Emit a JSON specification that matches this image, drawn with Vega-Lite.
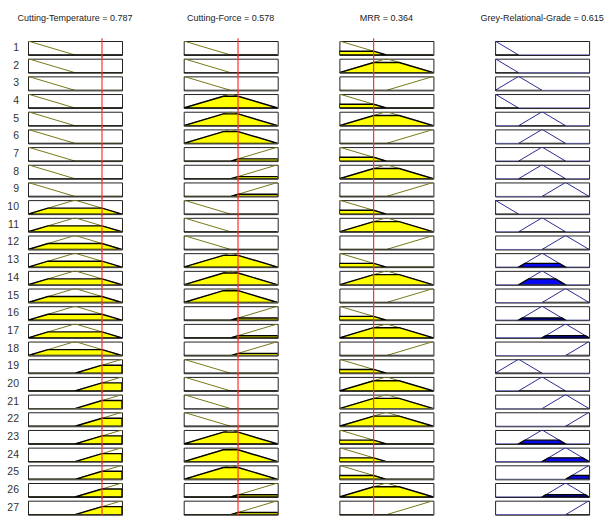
{
"$schema":"https://vega.github.io/schema/vega-lite/v6.json",
"background":"white",
"bounds":"flush",
"padding":{"left":7,"top":14,"right":0,"bottom":0},
"data":{"values":[
{"r":1,"v":"T","s":"o","x":0,"y":1},{"r":1,"v":"T","s":"o","x":0.5,"y":0},{"r":1,"v":"T","s":"o","x":1,"y":0},
{"r":1,"v":"T","s":"f","x":0,"y":0},{"r":1,"v":"T","s":"f","x":1,"y":0},
{"r":1,"v":"F","s":"o","x":0,"y":1},{"r":1,"v":"F","s":"o","x":0.5,"y":0},{"r":1,"v":"F","s":"o","x":1,"y":0},
{"r":1,"v":"F","s":"f","x":0,"y":0},{"r":1,"v":"F","s":"f","x":1,"y":0},
{"r":1,"v":"M","s":"o","x":0,"y":1},{"r":1,"v":"M","s":"o","x":0.5,"y":0},{"r":1,"v":"M","s":"o","x":1,"y":0},
{"r":1,"v":"M","s":"f","x":0,"y":0.272},{"r":1,"v":"M","s":"f","x":0.364,"y":0.272},{"r":1,"v":"M","s":"f","x":0.5,"y":0},{"r":1,"v":"M","s":"f","x":1,"y":0},
{"r":1,"v":"G","s":"o","x":0,"y":1},{"r":1,"v":"G","s":"o","x":0.25,"y":0},{"r":1,"v":"G","s":"o","x":1,"y":0},
{"r":1,"v":"G","s":"f","x":0,"y":0},{"r":1,"v":"G","s":"f","x":0.25,"y":0},
{"r":1,"v":"T","s":"i","x":0.787},{"r":1,"v":"F","s":"i","x":0.578},{"r":1,"v":"M","s":"i","x":0.364},

{"r":2,"v":"T","s":"o","x":0,"y":1},{"r":2,"v":"T","s":"o","x":0.5,"y":0},{"r":2,"v":"T","s":"o","x":1,"y":0},
{"r":2,"v":"T","s":"f","x":0,"y":0},{"r":2,"v":"T","s":"f","x":1,"y":0},
{"r":2,"v":"F","s":"o","x":0,"y":1},{"r":2,"v":"F","s":"o","x":0.5,"y":0},{"r":2,"v":"F","s":"o","x":1,"y":0},
{"r":2,"v":"F","s":"f","x":0,"y":0},{"r":2,"v":"F","s":"f","x":1,"y":0},
{"r":2,"v":"M","s":"o","x":0,"y":0},{"r":2,"v":"M","s":"o","x":0.5,"y":1},{"r":2,"v":"M","s":"o","x":1,"y":0},
{"r":2,"v":"M","s":"f","x":0,"y":0},{"r":2,"v":"M","s":"f","x":0.364,"y":0.728},{"r":2,"v":"M","s":"f","x":0.636,"y":0.728},{"r":2,"v":"M","s":"f","x":1,"y":0},
{"r":2,"v":"G","s":"o","x":0,"y":1},{"r":2,"v":"G","s":"o","x":0.25,"y":0},{"r":2,"v":"G","s":"o","x":1,"y":0},
{"r":2,"v":"G","s":"f","x":0,"y":0},{"r":2,"v":"G","s":"f","x":0.25,"y":0},
{"r":2,"v":"T","s":"i","x":0.787},{"r":2,"v":"F","s":"i","x":0.578},{"r":2,"v":"M","s":"i","x":0.364},

{"r":3,"v":"T","s":"o","x":0,"y":1},{"r":3,"v":"T","s":"o","x":0.5,"y":0},{"r":3,"v":"T","s":"o","x":1,"y":0},
{"r":3,"v":"T","s":"f","x":0,"y":0},{"r":3,"v":"T","s":"f","x":1,"y":0},
{"r":3,"v":"F","s":"o","x":0,"y":1},{"r":3,"v":"F","s":"o","x":0.5,"y":0},{"r":3,"v":"F","s":"o","x":1,"y":0},
{"r":3,"v":"F","s":"f","x":0,"y":0},{"r":3,"v":"F","s":"f","x":1,"y":0},
{"r":3,"v":"M","s":"o","x":0,"y":0},{"r":3,"v":"M","s":"o","x":0.5,"y":0},{"r":3,"v":"M","s":"o","x":1,"y":1},
{"r":3,"v":"M","s":"f","x":0,"y":0},{"r":3,"v":"M","s":"f","x":1,"y":0},
{"r":3,"v":"G","s":"o","x":0,"y":0},{"r":3,"v":"G","s":"o","x":0.25,"y":1},{"r":3,"v":"G","s":"o","x":0.5,"y":0},{"r":3,"v":"G","s":"o","x":1,"y":0},
{"r":3,"v":"G","s":"f","x":0,"y":0},{"r":3,"v":"G","s":"f","x":0.5,"y":0},
{"r":3,"v":"T","s":"i","x":0.787},{"r":3,"v":"F","s":"i","x":0.578},{"r":3,"v":"M","s":"i","x":0.364},

{"r":4,"v":"T","s":"o","x":0,"y":1},{"r":4,"v":"T","s":"o","x":0.5,"y":0},{"r":4,"v":"T","s":"o","x":1,"y":0},
{"r":4,"v":"T","s":"f","x":0,"y":0},{"r":4,"v":"T","s":"f","x":1,"y":0},
{"r":4,"v":"F","s":"o","x":0,"y":0},{"r":4,"v":"F","s":"o","x":0.5,"y":1},{"r":4,"v":"F","s":"o","x":1,"y":0},
{"r":4,"v":"F","s":"f","x":0,"y":0},{"r":4,"v":"F","s":"f","x":0.422,"y":0.844},{"r":4,"v":"F","s":"f","x":0.578,"y":0.844},{"r":4,"v":"F","s":"f","x":1,"y":0},
{"r":4,"v":"M","s":"o","x":0,"y":1},{"r":4,"v":"M","s":"o","x":0.5,"y":0},{"r":4,"v":"M","s":"o","x":1,"y":0},
{"r":4,"v":"M","s":"f","x":0,"y":0.272},{"r":4,"v":"M","s":"f","x":0.364,"y":0.272},{"r":4,"v":"M","s":"f","x":0.5,"y":0},{"r":4,"v":"M","s":"f","x":1,"y":0},
{"r":4,"v":"G","s":"o","x":0,"y":1},{"r":4,"v":"G","s":"o","x":0.25,"y":0},{"r":4,"v":"G","s":"o","x":1,"y":0},
{"r":4,"v":"G","s":"f","x":0,"y":0},{"r":4,"v":"G","s":"f","x":0.25,"y":0},
{"r":4,"v":"T","s":"i","x":0.787},{"r":4,"v":"F","s":"i","x":0.578},{"r":4,"v":"M","s":"i","x":0.364},

{"r":5,"v":"T","s":"o","x":0,"y":1},{"r":5,"v":"T","s":"o","x":0.5,"y":0},{"r":5,"v":"T","s":"o","x":1,"y":0},
{"r":5,"v":"T","s":"f","x":0,"y":0},{"r":5,"v":"T","s":"f","x":1,"y":0},
{"r":5,"v":"F","s":"o","x":0,"y":0},{"r":5,"v":"F","s":"o","x":0.5,"y":1},{"r":5,"v":"F","s":"o","x":1,"y":0},
{"r":5,"v":"F","s":"f","x":0,"y":0},{"r":5,"v":"F","s":"f","x":0.422,"y":0.844},{"r":5,"v":"F","s":"f","x":0.578,"y":0.844},{"r":5,"v":"F","s":"f","x":1,"y":0},
{"r":5,"v":"M","s":"o","x":0,"y":0},{"r":5,"v":"M","s":"o","x":0.5,"y":1},{"r":5,"v":"M","s":"o","x":1,"y":0},
{"r":5,"v":"M","s":"f","x":0,"y":0},{"r":5,"v":"M","s":"f","x":0.364,"y":0.728},{"r":5,"v":"M","s":"f","x":0.636,"y":0.728},{"r":5,"v":"M","s":"f","x":1,"y":0},
{"r":5,"v":"G","s":"o","x":0,"y":0},{"r":5,"v":"G","s":"o","x":0.25,"y":0},{"r":5,"v":"G","s":"o","x":0.5,"y":1},{"r":5,"v":"G","s":"o","x":0.75,"y":0},{"r":5,"v":"G","s":"o","x":1,"y":0},
{"r":5,"v":"G","s":"f","x":0.25,"y":0},{"r":5,"v":"G","s":"f","x":0.75,"y":0},
{"r":5,"v":"T","s":"i","x":0.787},{"r":5,"v":"F","s":"i","x":0.578},{"r":5,"v":"M","s":"i","x":0.364},

{"r":6,"v":"T","s":"o","x":0,"y":1},{"r":6,"v":"T","s":"o","x":0.5,"y":0},{"r":6,"v":"T","s":"o","x":1,"y":0},
{"r":6,"v":"T","s":"f","x":0,"y":0},{"r":6,"v":"T","s":"f","x":1,"y":0},
{"r":6,"v":"F","s":"o","x":0,"y":0},{"r":6,"v":"F","s":"o","x":0.5,"y":1},{"r":6,"v":"F","s":"o","x":1,"y":0},
{"r":6,"v":"F","s":"f","x":0,"y":0},{"r":6,"v":"F","s":"f","x":0.422,"y":0.844},{"r":6,"v":"F","s":"f","x":0.578,"y":0.844},{"r":6,"v":"F","s":"f","x":1,"y":0},
{"r":6,"v":"M","s":"o","x":0,"y":0},{"r":6,"v":"M","s":"o","x":0.5,"y":0},{"r":6,"v":"M","s":"o","x":1,"y":1},
{"r":6,"v":"M","s":"f","x":0,"y":0},{"r":6,"v":"M","s":"f","x":1,"y":0},
{"r":6,"v":"G","s":"o","x":0,"y":0},{"r":6,"v":"G","s":"o","x":0.25,"y":0},{"r":6,"v":"G","s":"o","x":0.5,"y":1},{"r":6,"v":"G","s":"o","x":0.75,"y":0},{"r":6,"v":"G","s":"o","x":1,"y":0},
{"r":6,"v":"G","s":"f","x":0.25,"y":0},{"r":6,"v":"G","s":"f","x":0.75,"y":0},
{"r":6,"v":"T","s":"i","x":0.787},{"r":6,"v":"F","s":"i","x":0.578},{"r":6,"v":"M","s":"i","x":0.364},

{"r":7,"v":"T","s":"o","x":0,"y":1},{"r":7,"v":"T","s":"o","x":0.5,"y":0},{"r":7,"v":"T","s":"o","x":1,"y":0},
{"r":7,"v":"T","s":"f","x":0,"y":0},{"r":7,"v":"T","s":"f","x":1,"y":0},
{"r":7,"v":"F","s":"o","x":0,"y":0},{"r":7,"v":"F","s":"o","x":0.5,"y":0},{"r":7,"v":"F","s":"o","x":1,"y":1},
{"r":7,"v":"F","s":"f","x":0,"y":0},{"r":7,"v":"F","s":"f","x":0.5,"y":0},{"r":7,"v":"F","s":"f","x":0.578,"y":0.156},{"r":7,"v":"F","s":"f","x":1,"y":0.156},
{"r":7,"v":"M","s":"o","x":0,"y":1},{"r":7,"v":"M","s":"o","x":0.5,"y":0},{"r":7,"v":"M","s":"o","x":1,"y":0},
{"r":7,"v":"M","s":"f","x":0,"y":0.272},{"r":7,"v":"M","s":"f","x":0.364,"y":0.272},{"r":7,"v":"M","s":"f","x":0.5,"y":0},{"r":7,"v":"M","s":"f","x":1,"y":0},
{"r":7,"v":"G","s":"o","x":0,"y":0},{"r":7,"v":"G","s":"o","x":0.25,"y":0},{"r":7,"v":"G","s":"o","x":0.5,"y":1},{"r":7,"v":"G","s":"o","x":0.75,"y":0},{"r":7,"v":"G","s":"o","x":1,"y":0},
{"r":7,"v":"G","s":"f","x":0.25,"y":0},{"r":7,"v":"G","s":"f","x":0.75,"y":0},
{"r":7,"v":"T","s":"i","x":0.787},{"r":7,"v":"F","s":"i","x":0.578},{"r":7,"v":"M","s":"i","x":0.364},

{"r":8,"v":"T","s":"o","x":0,"y":1},{"r":8,"v":"T","s":"o","x":0.5,"y":0},{"r":8,"v":"T","s":"o","x":1,"y":0},
{"r":8,"v":"T","s":"f","x":0,"y":0},{"r":8,"v":"T","s":"f","x":1,"y":0},
{"r":8,"v":"F","s":"o","x":0,"y":0},{"r":8,"v":"F","s":"o","x":0.5,"y":0},{"r":8,"v":"F","s":"o","x":1,"y":1},
{"r":8,"v":"F","s":"f","x":0,"y":0},{"r":8,"v":"F","s":"f","x":0.5,"y":0},{"r":8,"v":"F","s":"f","x":0.578,"y":0.156},{"r":8,"v":"F","s":"f","x":1,"y":0.156},
{"r":8,"v":"M","s":"o","x":0,"y":0},{"r":8,"v":"M","s":"o","x":0.5,"y":1},{"r":8,"v":"M","s":"o","x":1,"y":0},
{"r":8,"v":"M","s":"f","x":0,"y":0},{"r":8,"v":"M","s":"f","x":0.364,"y":0.728},{"r":8,"v":"M","s":"f","x":0.636,"y":0.728},{"r":8,"v":"M","s":"f","x":1,"y":0},
{"r":8,"v":"G","s":"o","x":0,"y":0},{"r":8,"v":"G","s":"o","x":0.25,"y":0},{"r":8,"v":"G","s":"o","x":0.5,"y":1},{"r":8,"v":"G","s":"o","x":0.75,"y":0},{"r":8,"v":"G","s":"o","x":1,"y":0},
{"r":8,"v":"G","s":"f","x":0.25,"y":0},{"r":8,"v":"G","s":"f","x":0.75,"y":0},
{"r":8,"v":"T","s":"i","x":0.787},{"r":8,"v":"F","s":"i","x":0.578},{"r":8,"v":"M","s":"i","x":0.364},

{"r":9,"v":"T","s":"o","x":0,"y":1},{"r":9,"v":"T","s":"o","x":0.5,"y":0},{"r":9,"v":"T","s":"o","x":1,"y":0},
{"r":9,"v":"T","s":"f","x":0,"y":0},{"r":9,"v":"T","s":"f","x":1,"y":0},
{"r":9,"v":"F","s":"o","x":0,"y":0},{"r":9,"v":"F","s":"o","x":0.5,"y":0},{"r":9,"v":"F","s":"o","x":1,"y":1},
{"r":9,"v":"F","s":"f","x":0,"y":0},{"r":9,"v":"F","s":"f","x":0.5,"y":0},{"r":9,"v":"F","s":"f","x":0.578,"y":0.156},{"r":9,"v":"F","s":"f","x":1,"y":0.156},
{"r":9,"v":"M","s":"o","x":0,"y":0},{"r":9,"v":"M","s":"o","x":0.5,"y":0},{"r":9,"v":"M","s":"o","x":1,"y":1},
{"r":9,"v":"M","s":"f","x":0,"y":0},{"r":9,"v":"M","s":"f","x":1,"y":0},
{"r":9,"v":"G","s":"o","x":0,"y":0},{"r":9,"v":"G","s":"o","x":0.5,"y":0},{"r":9,"v":"G","s":"o","x":0.75,"y":1},{"r":9,"v":"G","s":"o","x":1,"y":0},
{"r":9,"v":"G","s":"f","x":0.5,"y":0},{"r":9,"v":"G","s":"f","x":1,"y":0},
{"r":9,"v":"T","s":"i","x":0.787},{"r":9,"v":"F","s":"i","x":0.578},{"r":9,"v":"M","s":"i","x":0.364},

{"r":10,"v":"T","s":"o","x":0,"y":0},{"r":10,"v":"T","s":"o","x":0.5,"y":1},{"r":10,"v":"T","s":"o","x":1,"y":0},
{"r":10,"v":"T","s":"f","x":0,"y":0},{"r":10,"v":"T","s":"f","x":0.213,"y":0.426},{"r":10,"v":"T","s":"f","x":0.787,"y":0.426},{"r":10,"v":"T","s":"f","x":1,"y":0},
{"r":10,"v":"F","s":"o","x":0,"y":1},{"r":10,"v":"F","s":"o","x":0.5,"y":0},{"r":10,"v":"F","s":"o","x":1,"y":0},
{"r":10,"v":"F","s":"f","x":0,"y":0},{"r":10,"v":"F","s":"f","x":1,"y":0},
{"r":10,"v":"M","s":"o","x":0,"y":1},{"r":10,"v":"M","s":"o","x":0.5,"y":0},{"r":10,"v":"M","s":"o","x":1,"y":0},
{"r":10,"v":"M","s":"f","x":0,"y":0.272},{"r":10,"v":"M","s":"f","x":0.364,"y":0.272},{"r":10,"v":"M","s":"f","x":0.5,"y":0},{"r":10,"v":"M","s":"f","x":1,"y":0},
{"r":10,"v":"G","s":"o","x":0,"y":1},{"r":10,"v":"G","s":"o","x":0.25,"y":0},{"r":10,"v":"G","s":"o","x":1,"y":0},
{"r":10,"v":"G","s":"f","x":0,"y":0},{"r":10,"v":"G","s":"f","x":0.25,"y":0},
{"r":10,"v":"T","s":"i","x":0.787},{"r":10,"v":"F","s":"i","x":0.578},{"r":10,"v":"M","s":"i","x":0.364},

{"r":11,"v":"T","s":"o","x":0,"y":0},{"r":11,"v":"T","s":"o","x":0.5,"y":1},{"r":11,"v":"T","s":"o","x":1,"y":0},
{"r":11,"v":"T","s":"f","x":0,"y":0},{"r":11,"v":"T","s":"f","x":0.213,"y":0.426},{"r":11,"v":"T","s":"f","x":0.787,"y":0.426},{"r":11,"v":"T","s":"f","x":1,"y":0},
{"r":11,"v":"F","s":"o","x":0,"y":1},{"r":11,"v":"F","s":"o","x":0.5,"y":0},{"r":11,"v":"F","s":"o","x":1,"y":0},
{"r":11,"v":"F","s":"f","x":0,"y":0},{"r":11,"v":"F","s":"f","x":1,"y":0},
{"r":11,"v":"M","s":"o","x":0,"y":0},{"r":11,"v":"M","s":"o","x":0.5,"y":1},{"r":11,"v":"M","s":"o","x":1,"y":0},
{"r":11,"v":"M","s":"f","x":0,"y":0},{"r":11,"v":"M","s":"f","x":0.364,"y":0.728},{"r":11,"v":"M","s":"f","x":0.636,"y":0.728},{"r":11,"v":"M","s":"f","x":1,"y":0},
{"r":11,"v":"G","s":"o","x":0,"y":0},{"r":11,"v":"G","s":"o","x":0.25,"y":0},{"r":11,"v":"G","s":"o","x":0.5,"y":1},{"r":11,"v":"G","s":"o","x":0.75,"y":0},{"r":11,"v":"G","s":"o","x":1,"y":0},
{"r":11,"v":"G","s":"f","x":0.25,"y":0},{"r":11,"v":"G","s":"f","x":0.75,"y":0},
{"r":11,"v":"T","s":"i","x":0.787},{"r":11,"v":"F","s":"i","x":0.578},{"r":11,"v":"M","s":"i","x":0.364},

{"r":12,"v":"T","s":"o","x":0,"y":0},{"r":12,"v":"T","s":"o","x":0.5,"y":1},{"r":12,"v":"T","s":"o","x":1,"y":0},
{"r":12,"v":"T","s":"f","x":0,"y":0},{"r":12,"v":"T","s":"f","x":0.213,"y":0.426},{"r":12,"v":"T","s":"f","x":0.787,"y":0.426},{"r":12,"v":"T","s":"f","x":1,"y":0},
{"r":12,"v":"F","s":"o","x":0,"y":1},{"r":12,"v":"F","s":"o","x":0.5,"y":0},{"r":12,"v":"F","s":"o","x":1,"y":0},
{"r":12,"v":"F","s":"f","x":0,"y":0},{"r":12,"v":"F","s":"f","x":1,"y":0},
{"r":12,"v":"M","s":"o","x":0,"y":0},{"r":12,"v":"M","s":"o","x":0.5,"y":0},{"r":12,"v":"M","s":"o","x":1,"y":1},
{"r":12,"v":"M","s":"f","x":0,"y":0},{"r":12,"v":"M","s":"f","x":1,"y":0},
{"r":12,"v":"G","s":"o","x":0,"y":0},{"r":12,"v":"G","s":"o","x":0.5,"y":0},{"r":12,"v":"G","s":"o","x":0.75,"y":1},{"r":12,"v":"G","s":"o","x":1,"y":0},
{"r":12,"v":"G","s":"f","x":0.5,"y":0},{"r":12,"v":"G","s":"f","x":1,"y":0},
{"r":12,"v":"T","s":"i","x":0.787},{"r":12,"v":"F","s":"i","x":0.578},{"r":12,"v":"M","s":"i","x":0.364},

{"r":13,"v":"T","s":"o","x":0,"y":0},{"r":13,"v":"T","s":"o","x":0.5,"y":1},{"r":13,"v":"T","s":"o","x":1,"y":0},
{"r":13,"v":"T","s":"f","x":0,"y":0},{"r":13,"v":"T","s":"f","x":0.213,"y":0.426},{"r":13,"v":"T","s":"f","x":0.787,"y":0.426},{"r":13,"v":"T","s":"f","x":1,"y":0},
{"r":13,"v":"F","s":"o","x":0,"y":0},{"r":13,"v":"F","s":"o","x":0.5,"y":1},{"r":13,"v":"F","s":"o","x":1,"y":0},
{"r":13,"v":"F","s":"f","x":0,"y":0},{"r":13,"v":"F","s":"f","x":0.422,"y":0.844},{"r":13,"v":"F","s":"f","x":0.578,"y":0.844},{"r":13,"v":"F","s":"f","x":1,"y":0},
{"r":13,"v":"M","s":"o","x":0,"y":1},{"r":13,"v":"M","s":"o","x":0.5,"y":0},{"r":13,"v":"M","s":"o","x":1,"y":0},
{"r":13,"v":"M","s":"f","x":0,"y":0.272},{"r":13,"v":"M","s":"f","x":0.364,"y":0.272},{"r":13,"v":"M","s":"f","x":0.5,"y":0},{"r":13,"v":"M","s":"f","x":1,"y":0},
{"r":13,"v":"G","s":"o","x":0,"y":0},{"r":13,"v":"G","s":"o","x":0.25,"y":0},{"r":13,"v":"G","s":"o","x":0.5,"y":1},{"r":13,"v":"G","s":"o","x":0.75,"y":0},{"r":13,"v":"G","s":"o","x":1,"y":0},
{"r":13,"v":"G","s":"f","x":0.25,"y":0},{"r":13,"v":"G","s":"f","x":0.318,"y":0.272},{"r":13,"v":"G","s":"f","x":0.682,"y":0.272},{"r":13,"v":"G","s":"f","x":0.75,"y":0},
{"r":13,"v":"T","s":"i","x":0.787},{"r":13,"v":"F","s":"i","x":0.578},{"r":13,"v":"M","s":"i","x":0.364},

{"r":14,"v":"T","s":"o","x":0,"y":0},{"r":14,"v":"T","s":"o","x":0.5,"y":1},{"r":14,"v":"T","s":"o","x":1,"y":0},
{"r":14,"v":"T","s":"f","x":0,"y":0},{"r":14,"v":"T","s":"f","x":0.213,"y":0.426},{"r":14,"v":"T","s":"f","x":0.787,"y":0.426},{"r":14,"v":"T","s":"f","x":1,"y":0},
{"r":14,"v":"F","s":"o","x":0,"y":0},{"r":14,"v":"F","s":"o","x":0.5,"y":1},{"r":14,"v":"F","s":"o","x":1,"y":0},
{"r":14,"v":"F","s":"f","x":0,"y":0},{"r":14,"v":"F","s":"f","x":0.422,"y":0.844},{"r":14,"v":"F","s":"f","x":0.578,"y":0.844},{"r":14,"v":"F","s":"f","x":1,"y":0},
{"r":14,"v":"M","s":"o","x":0,"y":0},{"r":14,"v":"M","s":"o","x":0.5,"y":1},{"r":14,"v":"M","s":"o","x":1,"y":0},
{"r":14,"v":"M","s":"f","x":0,"y":0},{"r":14,"v":"M","s":"f","x":0.364,"y":0.728},{"r":14,"v":"M","s":"f","x":0.636,"y":0.728},{"r":14,"v":"M","s":"f","x":1,"y":0},
{"r":14,"v":"G","s":"o","x":0,"y":0},{"r":14,"v":"G","s":"o","x":0.25,"y":0},{"r":14,"v":"G","s":"o","x":0.5,"y":1},{"r":14,"v":"G","s":"o","x":0.75,"y":0},{"r":14,"v":"G","s":"o","x":1,"y":0},
{"r":14,"v":"G","s":"f","x":0.25,"y":0},{"r":14,"v":"G","s":"f","x":0.3565,"y":0.426},{"r":14,"v":"G","s":"f","x":0.6435,"y":0.426},{"r":14,"v":"G","s":"f","x":0.75,"y":0},
{"r":14,"v":"T","s":"i","x":0.787},{"r":14,"v":"F","s":"i","x":0.578},{"r":14,"v":"M","s":"i","x":0.364},

{"r":15,"v":"T","s":"o","x":0,"y":0},{"r":15,"v":"T","s":"o","x":0.5,"y":1},{"r":15,"v":"T","s":"o","x":1,"y":0},
{"r":15,"v":"T","s":"f","x":0,"y":0},{"r":15,"v":"T","s":"f","x":0.213,"y":0.426},{"r":15,"v":"T","s":"f","x":0.787,"y":0.426},{"r":15,"v":"T","s":"f","x":1,"y":0},
{"r":15,"v":"F","s":"o","x":0,"y":0},{"r":15,"v":"F","s":"o","x":0.5,"y":1},{"r":15,"v":"F","s":"o","x":1,"y":0},
{"r":15,"v":"F","s":"f","x":0,"y":0},{"r":15,"v":"F","s":"f","x":0.422,"y":0.844},{"r":15,"v":"F","s":"f","x":0.578,"y":0.844},{"r":15,"v":"F","s":"f","x":1,"y":0},
{"r":15,"v":"M","s":"o","x":0,"y":0},{"r":15,"v":"M","s":"o","x":0.5,"y":0},{"r":15,"v":"M","s":"o","x":1,"y":1},
{"r":15,"v":"M","s":"f","x":0,"y":0},{"r":15,"v":"M","s":"f","x":1,"y":0},
{"r":15,"v":"G","s":"o","x":0,"y":0},{"r":15,"v":"G","s":"o","x":0.5,"y":0},{"r":15,"v":"G","s":"o","x":0.75,"y":1},{"r":15,"v":"G","s":"o","x":1,"y":0},
{"r":15,"v":"G","s":"f","x":0.5,"y":0},{"r":15,"v":"G","s":"f","x":1,"y":0},
{"r":15,"v":"T","s":"i","x":0.787},{"r":15,"v":"F","s":"i","x":0.578},{"r":15,"v":"M","s":"i","x":0.364},

{"r":16,"v":"T","s":"o","x":0,"y":0},{"r":16,"v":"T","s":"o","x":0.5,"y":1},{"r":16,"v":"T","s":"o","x":1,"y":0},
{"r":16,"v":"T","s":"f","x":0,"y":0},{"r":16,"v":"T","s":"f","x":0.213,"y":0.426},{"r":16,"v":"T","s":"f","x":0.787,"y":0.426},{"r":16,"v":"T","s":"f","x":1,"y":0},
{"r":16,"v":"F","s":"o","x":0,"y":0},{"r":16,"v":"F","s":"o","x":0.5,"y":0},{"r":16,"v":"F","s":"o","x":1,"y":1},
{"r":16,"v":"F","s":"f","x":0,"y":0},{"r":16,"v":"F","s":"f","x":0.5,"y":0},{"r":16,"v":"F","s":"f","x":0.578,"y":0.156},{"r":16,"v":"F","s":"f","x":1,"y":0.156},
{"r":16,"v":"M","s":"o","x":0,"y":1},{"r":16,"v":"M","s":"o","x":0.5,"y":0},{"r":16,"v":"M","s":"o","x":1,"y":0},
{"r":16,"v":"M","s":"f","x":0,"y":0.272},{"r":16,"v":"M","s":"f","x":0.364,"y":0.272},{"r":16,"v":"M","s":"f","x":0.5,"y":0},{"r":16,"v":"M","s":"f","x":1,"y":0},
{"r":16,"v":"G","s":"o","x":0,"y":0},{"r":16,"v":"G","s":"o","x":0.25,"y":0},{"r":16,"v":"G","s":"o","x":0.5,"y":1},{"r":16,"v":"G","s":"o","x":0.75,"y":0},{"r":16,"v":"G","s":"o","x":1,"y":0},
{"r":16,"v":"G","s":"f","x":0.25,"y":0},{"r":16,"v":"G","s":"f","x":0.289,"y":0.156},{"r":16,"v":"G","s":"f","x":0.711,"y":0.156},{"r":16,"v":"G","s":"f","x":0.75,"y":0},
{"r":16,"v":"T","s":"i","x":0.787},{"r":16,"v":"F","s":"i","x":0.578},{"r":16,"v":"M","s":"i","x":0.364},

{"r":17,"v":"T","s":"o","x":0,"y":0},{"r":17,"v":"T","s":"o","x":0.5,"y":1},{"r":17,"v":"T","s":"o","x":1,"y":0},
{"r":17,"v":"T","s":"f","x":0,"y":0},{"r":17,"v":"T","s":"f","x":0.213,"y":0.426},{"r":17,"v":"T","s":"f","x":0.787,"y":0.426},{"r":17,"v":"T","s":"f","x":1,"y":0},
{"r":17,"v":"F","s":"o","x":0,"y":0},{"r":17,"v":"F","s":"o","x":0.5,"y":0},{"r":17,"v":"F","s":"o","x":1,"y":1},
{"r":17,"v":"F","s":"f","x":0,"y":0},{"r":17,"v":"F","s":"f","x":0.5,"y":0},{"r":17,"v":"F","s":"f","x":0.578,"y":0.156},{"r":17,"v":"F","s":"f","x":1,"y":0.156},
{"r":17,"v":"M","s":"o","x":0,"y":0},{"r":17,"v":"M","s":"o","x":0.5,"y":1},{"r":17,"v":"M","s":"o","x":1,"y":0},
{"r":17,"v":"M","s":"f","x":0,"y":0},{"r":17,"v":"M","s":"f","x":0.364,"y":0.728},{"r":17,"v":"M","s":"f","x":0.636,"y":0.728},{"r":17,"v":"M","s":"f","x":1,"y":0},
{"r":17,"v":"G","s":"o","x":0,"y":0},{"r":17,"v":"G","s":"o","x":0.5,"y":0},{"r":17,"v":"G","s":"o","x":0.75,"y":1},{"r":17,"v":"G","s":"o","x":1,"y":0},
{"r":17,"v":"G","s":"f","x":0.5,"y":0},{"r":17,"v":"G","s":"f","x":0.539,"y":0.156},{"r":17,"v":"G","s":"f","x":0.961,"y":0.156},{"r":17,"v":"G","s":"f","x":1,"y":0},
{"r":17,"v":"T","s":"i","x":0.787},{"r":17,"v":"F","s":"i","x":0.578},{"r":17,"v":"M","s":"i","x":0.364},

{"r":18,"v":"T","s":"o","x":0,"y":0},{"r":18,"v":"T","s":"o","x":0.5,"y":1},{"r":18,"v":"T","s":"o","x":1,"y":0},
{"r":18,"v":"T","s":"f","x":0,"y":0},{"r":18,"v":"T","s":"f","x":0.213,"y":0.426},{"r":18,"v":"T","s":"f","x":0.787,"y":0.426},{"r":18,"v":"T","s":"f","x":1,"y":0},
{"r":18,"v":"F","s":"o","x":0,"y":0},{"r":18,"v":"F","s":"o","x":0.5,"y":0},{"r":18,"v":"F","s":"o","x":1,"y":1},
{"r":18,"v":"F","s":"f","x":0,"y":0},{"r":18,"v":"F","s":"f","x":0.5,"y":0},{"r":18,"v":"F","s":"f","x":0.578,"y":0.156},{"r":18,"v":"F","s":"f","x":1,"y":0.156},
{"r":18,"v":"M","s":"o","x":0,"y":0},{"r":18,"v":"M","s":"o","x":0.5,"y":0},{"r":18,"v":"M","s":"o","x":1,"y":1},
{"r":18,"v":"M","s":"f","x":0,"y":0},{"r":18,"v":"M","s":"f","x":1,"y":0},
{"r":18,"v":"G","s":"o","x":0,"y":0},{"r":18,"v":"G","s":"o","x":0.75,"y":0},{"r":18,"v":"G","s":"o","x":1,"y":1},
{"r":18,"v":"G","s":"f","x":0.75,"y":0},{"r":18,"v":"G","s":"f","x":1,"y":0},
{"r":18,"v":"T","s":"i","x":0.787},{"r":18,"v":"F","s":"i","x":0.578},{"r":18,"v":"M","s":"i","x":0.364},

{"r":19,"v":"T","s":"o","x":0,"y":0},{"r":19,"v":"T","s":"o","x":0.5,"y":0},{"r":19,"v":"T","s":"o","x":1,"y":1},
{"r":19,"v":"T","s":"f","x":0,"y":0},{"r":19,"v":"T","s":"f","x":0.5,"y":0},{"r":19,"v":"T","s":"f","x":0.787,"y":0.574},{"r":19,"v":"T","s":"f","x":1,"y":0.574},
{"r":19,"v":"F","s":"o","x":0,"y":1},{"r":19,"v":"F","s":"o","x":0.5,"y":0},{"r":19,"v":"F","s":"o","x":1,"y":0},
{"r":19,"v":"F","s":"f","x":0,"y":0},{"r":19,"v":"F","s":"f","x":1,"y":0},
{"r":19,"v":"M","s":"o","x":0,"y":1},{"r":19,"v":"M","s":"o","x":0.5,"y":0},{"r":19,"v":"M","s":"o","x":1,"y":0},
{"r":19,"v":"M","s":"f","x":0,"y":0.272},{"r":19,"v":"M","s":"f","x":0.364,"y":0.272},{"r":19,"v":"M","s":"f","x":0.5,"y":0},{"r":19,"v":"M","s":"f","x":1,"y":0},
{"r":19,"v":"G","s":"o","x":0,"y":0},{"r":19,"v":"G","s":"o","x":0.25,"y":1},{"r":19,"v":"G","s":"o","x":0.5,"y":0},{"r":19,"v":"G","s":"o","x":1,"y":0},
{"r":19,"v":"G","s":"f","x":0,"y":0},{"r":19,"v":"G","s":"f","x":0.5,"y":0},
{"r":19,"v":"T","s":"i","x":0.787},{"r":19,"v":"F","s":"i","x":0.578},{"r":19,"v":"M","s":"i","x":0.364},

{"r":20,"v":"T","s":"o","x":0,"y":0},{"r":20,"v":"T","s":"o","x":0.5,"y":0},{"r":20,"v":"T","s":"o","x":1,"y":1},
{"r":20,"v":"T","s":"f","x":0,"y":0},{"r":20,"v":"T","s":"f","x":0.5,"y":0},{"r":20,"v":"T","s":"f","x":0.787,"y":0.574},{"r":20,"v":"T","s":"f","x":1,"y":0.574},
{"r":20,"v":"F","s":"o","x":0,"y":1},{"r":20,"v":"F","s":"o","x":0.5,"y":0},{"r":20,"v":"F","s":"o","x":1,"y":0},
{"r":20,"v":"F","s":"f","x":0,"y":0},{"r":20,"v":"F","s":"f","x":1,"y":0},
{"r":20,"v":"M","s":"o","x":0,"y":0},{"r":20,"v":"M","s":"o","x":0.5,"y":1},{"r":20,"v":"M","s":"o","x":1,"y":0},
{"r":20,"v":"M","s":"f","x":0,"y":0},{"r":20,"v":"M","s":"f","x":0.364,"y":0.728},{"r":20,"v":"M","s":"f","x":0.636,"y":0.728},{"r":20,"v":"M","s":"f","x":1,"y":0},
{"r":20,"v":"G","s":"o","x":0,"y":0},{"r":20,"v":"G","s":"o","x":0.25,"y":0},{"r":20,"v":"G","s":"o","x":0.5,"y":1},{"r":20,"v":"G","s":"o","x":0.75,"y":0},{"r":20,"v":"G","s":"o","x":1,"y":0},
{"r":20,"v":"G","s":"f","x":0.25,"y":0},{"r":20,"v":"G","s":"f","x":0.75,"y":0},
{"r":20,"v":"T","s":"i","x":0.787},{"r":20,"v":"F","s":"i","x":0.578},{"r":20,"v":"M","s":"i","x":0.364},

{"r":21,"v":"T","s":"o","x":0,"y":0},{"r":21,"v":"T","s":"o","x":0.5,"y":0},{"r":21,"v":"T","s":"o","x":1,"y":1},
{"r":21,"v":"T","s":"f","x":0,"y":0},{"r":21,"v":"T","s":"f","x":0.5,"y":0},{"r":21,"v":"T","s":"f","x":0.787,"y":0.574},{"r":21,"v":"T","s":"f","x":1,"y":0.574},
{"r":21,"v":"F","s":"o","x":0,"y":1},{"r":21,"v":"F","s":"o","x":0.5,"y":0},{"r":21,"v":"F","s":"o","x":1,"y":0},
{"r":21,"v":"F","s":"f","x":0,"y":0},{"r":21,"v":"F","s":"f","x":1,"y":0},
{"r":21,"v":"M","s":"o","x":0,"y":0},{"r":21,"v":"M","s":"o","x":0.5,"y":1},{"r":21,"v":"M","s":"o","x":1,"y":0},
{"r":21,"v":"M","s":"f","x":0,"y":0},{"r":21,"v":"M","s":"f","x":0.364,"y":0.728},{"r":21,"v":"M","s":"f","x":0.636,"y":0.728},{"r":21,"v":"M","s":"f","x":1,"y":0},
{"r":21,"v":"G","s":"o","x":0,"y":0},{"r":21,"v":"G","s":"o","x":0.5,"y":0},{"r":21,"v":"G","s":"o","x":0.75,"y":1},{"r":21,"v":"G","s":"o","x":1,"y":0},
{"r":21,"v":"G","s":"f","x":0.5,"y":0},{"r":21,"v":"G","s":"f","x":1,"y":0},
{"r":21,"v":"T","s":"i","x":0.787},{"r":21,"v":"F","s":"i","x":0.578},{"r":21,"v":"M","s":"i","x":0.364},

{"r":22,"v":"T","s":"o","x":0,"y":0},{"r":22,"v":"T","s":"o","x":0.5,"y":0},{"r":22,"v":"T","s":"o","x":1,"y":1},
{"r":22,"v":"T","s":"f","x":0,"y":0},{"r":22,"v":"T","s":"f","x":0.5,"y":0},{"r":22,"v":"T","s":"f","x":0.787,"y":0.574},{"r":22,"v":"T","s":"f","x":1,"y":0.574},
{"r":22,"v":"F","s":"o","x":0,"y":1},{"r":22,"v":"F","s":"o","x":0.5,"y":0},{"r":22,"v":"F","s":"o","x":1,"y":0},
{"r":22,"v":"F","s":"f","x":0,"y":0},{"r":22,"v":"F","s":"f","x":1,"y":0},
{"r":22,"v":"M","s":"o","x":0,"y":0},{"r":22,"v":"M","s":"o","x":0.5,"y":1},{"r":22,"v":"M","s":"o","x":1,"y":0},
{"r":22,"v":"M","s":"f","x":0,"y":0},{"r":22,"v":"M","s":"f","x":0.364,"y":0.728},{"r":22,"v":"M","s":"f","x":0.636,"y":0.728},{"r":22,"v":"M","s":"f","x":1,"y":0},
{"r":22,"v":"G","s":"o","x":0,"y":0},{"r":22,"v":"G","s":"o","x":0.75,"y":0},{"r":22,"v":"G","s":"o","x":1,"y":1},
{"r":22,"v":"G","s":"f","x":0.75,"y":0},{"r":22,"v":"G","s":"f","x":1,"y":0},
{"r":22,"v":"T","s":"i","x":0.787},{"r":22,"v":"F","s":"i","x":0.578},{"r":22,"v":"M","s":"i","x":0.364},

{"r":23,"v":"T","s":"o","x":0,"y":0},{"r":23,"v":"T","s":"o","x":0.5,"y":0},{"r":23,"v":"T","s":"o","x":1,"y":1},
{"r":23,"v":"T","s":"f","x":0,"y":0},{"r":23,"v":"T","s":"f","x":0.5,"y":0},{"r":23,"v":"T","s":"f","x":0.787,"y":0.574},{"r":23,"v":"T","s":"f","x":1,"y":0.574},
{"r":23,"v":"F","s":"o","x":0,"y":0},{"r":23,"v":"F","s":"o","x":0.5,"y":1},{"r":23,"v":"F","s":"o","x":1,"y":0},
{"r":23,"v":"F","s":"f","x":0,"y":0},{"r":23,"v":"F","s":"f","x":0.422,"y":0.844},{"r":23,"v":"F","s":"f","x":0.578,"y":0.844},{"r":23,"v":"F","s":"f","x":1,"y":0},
{"r":23,"v":"M","s":"o","x":0,"y":1},{"r":23,"v":"M","s":"o","x":0.5,"y":0},{"r":23,"v":"M","s":"o","x":1,"y":0},
{"r":23,"v":"M","s":"f","x":0,"y":0.272},{"r":23,"v":"M","s":"f","x":0.364,"y":0.272},{"r":23,"v":"M","s":"f","x":0.5,"y":0},{"r":23,"v":"M","s":"f","x":1,"y":0},
{"r":23,"v":"G","s":"o","x":0,"y":0},{"r":23,"v":"G","s":"o","x":0.25,"y":0},{"r":23,"v":"G","s":"o","x":0.5,"y":1},{"r":23,"v":"G","s":"o","x":0.75,"y":0},{"r":23,"v":"G","s":"o","x":1,"y":0},
{"r":23,"v":"G","s":"f","x":0.25,"y":0},{"r":23,"v":"G","s":"f","x":0.318,"y":0.272},{"r":23,"v":"G","s":"f","x":0.682,"y":0.272},{"r":23,"v":"G","s":"f","x":0.75,"y":0},
{"r":23,"v":"T","s":"i","x":0.787},{"r":23,"v":"F","s":"i","x":0.578},{"r":23,"v":"M","s":"i","x":0.364},

{"r":24,"v":"T","s":"o","x":0,"y":0},{"r":24,"v":"T","s":"o","x":0.5,"y":0},{"r":24,"v":"T","s":"o","x":1,"y":1},
{"r":24,"v":"T","s":"f","x":0,"y":0},{"r":24,"v":"T","s":"f","x":0.5,"y":0},{"r":24,"v":"T","s":"f","x":0.787,"y":0.574},{"r":24,"v":"T","s":"f","x":1,"y":0.574},
{"r":24,"v":"F","s":"o","x":0,"y":0},{"r":24,"v":"F","s":"o","x":0.5,"y":1},{"r":24,"v":"F","s":"o","x":1,"y":0},
{"r":24,"v":"F","s":"f","x":0,"y":0},{"r":24,"v":"F","s":"f","x":0.422,"y":0.844},{"r":24,"v":"F","s":"f","x":0.578,"y":0.844},{"r":24,"v":"F","s":"f","x":1,"y":0},
{"r":24,"v":"M","s":"o","x":0,"y":1},{"r":24,"v":"M","s":"o","x":0.5,"y":0},{"r":24,"v":"M","s":"o","x":1,"y":0},
{"r":24,"v":"M","s":"f","x":0,"y":0.272},{"r":24,"v":"M","s":"f","x":0.364,"y":0.272},{"r":24,"v":"M","s":"f","x":0.5,"y":0},{"r":24,"v":"M","s":"f","x":1,"y":0},
{"r":24,"v":"G","s":"o","x":0,"y":0},{"r":24,"v":"G","s":"o","x":0.5,"y":0},{"r":24,"v":"G","s":"o","x":0.75,"y":1},{"r":24,"v":"G","s":"o","x":1,"y":0},
{"r":24,"v":"G","s":"f","x":0.5,"y":0},{"r":24,"v":"G","s":"f","x":0.568,"y":0.272},{"r":24,"v":"G","s":"f","x":0.932,"y":0.272},{"r":24,"v":"G","s":"f","x":1,"y":0},
{"r":24,"v":"T","s":"i","x":0.787},{"r":24,"v":"F","s":"i","x":0.578},{"r":24,"v":"M","s":"i","x":0.364},

{"r":25,"v":"T","s":"o","x":0,"y":0},{"r":25,"v":"T","s":"o","x":0.5,"y":0},{"r":25,"v":"T","s":"o","x":1,"y":1},
{"r":25,"v":"T","s":"f","x":0,"y":0},{"r":25,"v":"T","s":"f","x":0.5,"y":0},{"r":25,"v":"T","s":"f","x":0.787,"y":0.574},{"r":25,"v":"T","s":"f","x":1,"y":0.574},
{"r":25,"v":"F","s":"o","x":0,"y":0},{"r":25,"v":"F","s":"o","x":0.5,"y":1},{"r":25,"v":"F","s":"o","x":1,"y":0},
{"r":25,"v":"F","s":"f","x":0,"y":0},{"r":25,"v":"F","s":"f","x":0.422,"y":0.844},{"r":25,"v":"F","s":"f","x":0.578,"y":0.844},{"r":25,"v":"F","s":"f","x":1,"y":0},
{"r":25,"v":"M","s":"o","x":0,"y":1},{"r":25,"v":"M","s":"o","x":0.5,"y":0},{"r":25,"v":"M","s":"o","x":1,"y":0},
{"r":25,"v":"M","s":"f","x":0,"y":0.272},{"r":25,"v":"M","s":"f","x":0.364,"y":0.272},{"r":25,"v":"M","s":"f","x":0.5,"y":0},{"r":25,"v":"M","s":"f","x":1,"y":0},
{"r":25,"v":"G","s":"o","x":0,"y":0},{"r":25,"v":"G","s":"o","x":0.75,"y":0},{"r":25,"v":"G","s":"o","x":1,"y":1},
{"r":25,"v":"G","s":"f","x":0.75,"y":0},{"r":25,"v":"G","s":"f","x":0.818,"y":0.272},{"r":25,"v":"G","s":"f","x":1,"y":0.272},
{"r":25,"v":"T","s":"i","x":0.787},{"r":25,"v":"F","s":"i","x":0.578},{"r":25,"v":"M","s":"i","x":0.364},

{"r":26,"v":"T","s":"o","x":0,"y":0},{"r":26,"v":"T","s":"o","x":0.5,"y":0},{"r":26,"v":"T","s":"o","x":1,"y":1},
{"r":26,"v":"T","s":"f","x":0,"y":0},{"r":26,"v":"T","s":"f","x":0.5,"y":0},{"r":26,"v":"T","s":"f","x":0.787,"y":0.574},{"r":26,"v":"T","s":"f","x":1,"y":0.574},
{"r":26,"v":"F","s":"o","x":0,"y":0},{"r":26,"v":"F","s":"o","x":0.5,"y":0},{"r":26,"v":"F","s":"o","x":1,"y":1},
{"r":26,"v":"F","s":"f","x":0,"y":0},{"r":26,"v":"F","s":"f","x":0.5,"y":0},{"r":26,"v":"F","s":"f","x":0.578,"y":0.156},{"r":26,"v":"F","s":"f","x":1,"y":0.156},
{"r":26,"v":"M","s":"o","x":0,"y":0},{"r":26,"v":"M","s":"o","x":0.5,"y":1},{"r":26,"v":"M","s":"o","x":1,"y":0},
{"r":26,"v":"M","s":"f","x":0,"y":0},{"r":26,"v":"M","s":"f","x":0.364,"y":0.728},{"r":26,"v":"M","s":"f","x":0.636,"y":0.728},{"r":26,"v":"M","s":"f","x":1,"y":0},
{"r":26,"v":"G","s":"o","x":0,"y":0},{"r":26,"v":"G","s":"o","x":0.5,"y":0},{"r":26,"v":"G","s":"o","x":0.75,"y":1},{"r":26,"v":"G","s":"o","x":1,"y":0},
{"r":26,"v":"G","s":"f","x":0.5,"y":0},{"r":26,"v":"G","s":"f","x":0.539,"y":0.156},{"r":26,"v":"G","s":"f","x":0.961,"y":0.156},{"r":26,"v":"G","s":"f","x":1,"y":0},
{"r":26,"v":"T","s":"i","x":0.787},{"r":26,"v":"F","s":"i","x":0.578},{"r":26,"v":"M","s":"i","x":0.364},

{"r":27,"v":"T","s":"o","x":0,"y":0},{"r":27,"v":"T","s":"o","x":0.5,"y":0},{"r":27,"v":"T","s":"o","x":1,"y":1},
{"r":27,"v":"T","s":"f","x":0,"y":0},{"r":27,"v":"T","s":"f","x":0.5,"y":0},{"r":27,"v":"T","s":"f","x":0.787,"y":0.574},{"r":27,"v":"T","s":"f","x":1,"y":0.574},
{"r":27,"v":"F","s":"o","x":0,"y":0},{"r":27,"v":"F","s":"o","x":0.5,"y":0},{"r":27,"v":"F","s":"o","x":1,"y":1},
{"r":27,"v":"F","s":"f","x":0,"y":0},{"r":27,"v":"F","s":"f","x":0.5,"y":0},{"r":27,"v":"F","s":"f","x":0.578,"y":0.156},{"r":27,"v":"F","s":"f","x":1,"y":0.156},
{"r":27,"v":"M","s":"o","x":0,"y":0},{"r":27,"v":"M","s":"o","x":0.5,"y":0},{"r":27,"v":"M","s":"o","x":1,"y":1},
{"r":27,"v":"M","s":"f","x":0,"y":0},{"r":27,"v":"M","s":"f","x":1,"y":0},
{"r":27,"v":"G","s":"o","x":0,"y":0},{"r":27,"v":"G","s":"o","x":0.75,"y":0},{"r":27,"v":"G","s":"o","x":1,"y":1},
{"r":27,"v":"G","s":"f","x":0.75,"y":0},{"r":27,"v":"G","s":"f","x":1,"y":0},
{"r":27,"v":"T","s":"i","x":0.787},{"r":27,"v":"F","s":"i","x":0.578},{"r":27,"v":"M","s":"i","x":0.364}
]},
"facet":{
"row":{"field":"r","type":"ordinal","header":{"title":null,"labelAngle":0,"labelAlign":"left","labelBaseline":"middle","labelFont":"Liberation Sans","labelFontSize":10.5,"labelColor":"#333","labelPadding":9}},
"column":{"field":"v","type":"nominal","sort":["T","F","M","G"],"header":{"title":null,"labelFont":"Liberation Sans","labelFontSize":9,"labelColor":"#222","labelPadding":18,"labelExpr":"datum.value == 'T' ? 'Cutting-Temperature = 0.787' : datum.value == 'F' ? 'Cutting-Force = 0.578' : datum.value == 'M' ? 'MRR = 0.364' : 'Grey-Relational-Grade = 0.615'"}}
},
"spacing":{"row":3.68,"column":61.7},
"spec":{
"width":94,"height":14,
"layer":[
{"transform":[{"filter":"datum.s == 'o'"}],
"mark":{"type":"line","strokeWidth":1,"clip":true},
"encoding":{
"x":{"field":"x","type":"quantitative","scale":{"domain":[0,1],"nice":false},"axis":null},
"y":{"field":"y","type":"quantitative","scale":{"domain":[0,1],"nice":false},"axis":null},
"stroke":{"field":"v","type":"nominal","scale":{"domain":["T","F","M","G"],"range":["#78781a","#78781a","#78781a","#2c2c94"]},"legend":null}}},
{"transform":[{"filter":"datum.s == 'f'"}],
"mark":{"type":"area","stroke":"black","strokeWidth":1.4,"fillOpacity":1,"clip":true},
"encoding":{
"x":{"field":"x","type":"quantitative","axis":null},
"y":{"field":"y","type":"quantitative","axis":null},
"fill":{"field":"v","type":"nominal","scale":{"domain":["T","F","M","G"],"range":["#ffff00","#ffff00","#ffff00","#0a0af0"]},"legend":null}}},
{"transform":[{"filter":"datum.s == 'i'"}],
"mark":{"type":"rule","color":"#ff3030","strokeWidth":1.2},
"encoding":{"x":{"field":"x","type":"quantitative","axis":null},"y":{"datum":-0.16},"y2":{"datum":1.2}}}
]},
"config":{"view":{"stroke":"#222","strokeWidth":1}}
}
